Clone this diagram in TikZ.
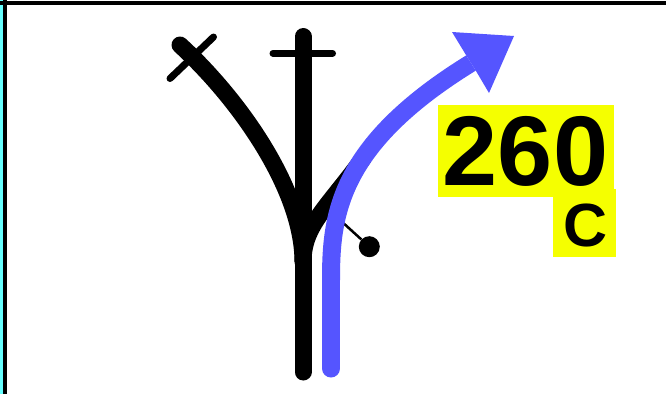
\documentclass[tikz,border=0pt]{standalone}
\usepackage{fontspec}
\setmainfont{Liberation Sans}
\definecolor{routeblue}{HTML}{5555FF}
\definecolor{signyellow}{HTML}{F5FF00}
\definecolor{edgecyan}{HTML}{66FFFF}
\tikzset{
  track/.style={line width=17pt,line cap=round,black},
  route/.style={line width=18pt,routeblue},
  bar/.style={line width=7pt,line cap=round,black},
  plate/.style={fill=signyellow,draw=none},
  bigtxt/.style={inner sep=0pt,anchor=base,font=\bfseries\fontsize{99}{99}\selectfont},
  smalltxt/.style={inner sep=0pt,anchor=base,font=\bfseries\fontsize{61}{61}\selectfont}
}
\begin{document}
\begin{tikzpicture}[x=1pt,y=-1pt]
\useasboundingbox (0,0) rectangle (666,394);
\fill[white] (0,0) rectangle (666,394);
% frame
\fill[edgecyan] (0,0) rectangle (3,394);
\fill[black] (3,0) rectangle (7,394);
\fill[black] (0,1) rectangle (666,4.7);
% signal bars
\coordinate (xa) at (170,78.5);
\coordinate (xb) at (213.5,37);
\coordinate (ha) at (273,53.3);
\coordinate (hb) at (332.5,53.3);
\draw[bar] (xa) -- (xb);
\draw[bar] (ha) -- (hb);
% tracks
\coordinate (base) at (303,372);
\coordinate (top) at (303,36.5);
\coordinate (junction) at (303,262);
\coordinate (leftend) at (180,45);
\coordinate (rightend) at (364,157);
\draw[track] (base) -- (top);
\draw[track] (junction) .. controls (303,190) and (240,100) .. (leftend);
\draw[track,line cap=butt] (junction) .. controls (303,225) and (328,207) .. (rightend);
% indicator
\node[circle,fill=black,inner sep=0pt,minimum size=21pt] (dot) at (369.3,246.7) {};
\coordinate (stem) at (340,220);
\draw[line width=2.5pt,black] (stem) -- (dot);
% route arrow
\coordinate (ra) at (331,368.5);
\coordinate (rb) at (331,280);
\coordinate (rc) at (471,63);
\draw[route,line cap=round] (ra) -- (rb);
\draw[route] (rb) .. controls (331,215) and (338,145) .. (rc);
\fill[routeblue] (452,32) -- (514,36) -- (489,93) -- (476,71) -- (466,55) -- cycle;
% speed plates
\fill[plate] (438,105) rectangle (614,197);
\fill[plate] (553.3,189) rectangle (616,257);
\node[bigtxt] (speed) at (525.5,185.5) {260};
\node[smalltxt] (letter) at (585.5,246) {C};
\end{tikzpicture}
\end{document}
